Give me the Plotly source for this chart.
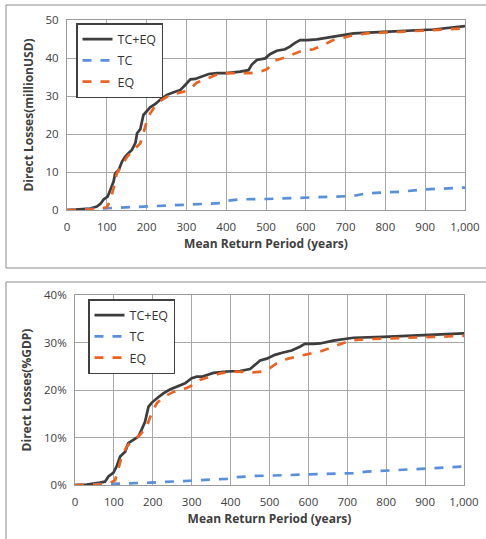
import plotly.graph_objects as go

# ---- Top chart: Direct losses (million USD)
top_x_all = [0, 25, 58, 75, 84, 92, 102, 109, 117, 121, 130, 138, 146, 155, 163, 172, 176, 184, 192, 209, 222, 234, 251, 268, 285, 297, 310, 322, 335, 356, 377, 402, 435, 456, 464, 477, 498, 510, 527, 548, 560, 573, 586, 603, 628, 669, 703, 720, 795, 921, 1000]
top_y_all = [0, 0.2, 0.4, 0.9, 1.6, 2.8, 3.5, 5.3, 7.5, 9.6, 10.5, 12.7, 14, 15, 15.8, 17.7, 20.2, 21.2, 25, 27, 27.9, 29, 30.3, 31, 31.6, 32.9, 34.4, 34.5, 35, 35.8, 36, 36, 36.4, 36.8, 38.2, 39.5, 39.9, 41, 41.9, 42.3, 43, 44, 44.7, 44.7, 44.9, 45.6, 46.3, 46.5, 46.9, 47.5, 48.4]

top_x_tc = [0, 167, 251, 301, 385, 402, 435, 502, 586, 669, 720, 753, 795, 837, 895, 1000]
top_y_tc = [0, 0.7, 1.1, 1.3, 1.8, 2.4, 2.8, 2.9, 3.3, 3.5, 3.7, 4.4, 4.6, 4.8, 5.4, 5.9]

top_x_eq = [0, 75, 100, 109, 117, 125, 138, 151, 167, 184, 192, 201, 209, 226, 251, 276, 293, 310, 326, 351, 385, 418, 460, 485, 502, 523, 552, 586, 619, 636, 669, 711, 753, 837, 921, 1000]
top_y_eq = [0, 0.2, 0.7, 2.6, 5.7, 9.6, 11.8, 14, 15.8, 17.5, 20.2, 23.7, 25.4, 28.1, 29.8, 30.7, 31.1, 32, 33.5, 34.6, 36, 36, 36, 36.4, 37, 39.3, 40.3, 41.7, 42.3, 43, 44.7, 45.8, 46.5, 46.9, 47.4, 47.8]

# ---- Bottom chart: Direct losses (% GDP)
bot_x_all = [0, 30, 64, 77, 86, 99, 107, 116, 129, 137, 150, 163, 171, 180, 189, 197, 210, 227, 244, 266, 283, 300, 313, 326, 339, 356, 390, 424, 450, 463, 476, 493, 514, 535, 557, 578, 591, 613, 630, 664, 699, 716, 793, 921, 1000]
bot_y_all = [0, 0.1, 0.5, 0.7, 1.8, 2.6, 3.9, 6, 7, 8.8, 9.5, 10.2, 11.6, 13.3, 16.5, 17.3, 18.2, 19.3, 20.1, 20.8, 21.4, 22.5, 22.8, 22.8, 23.2, 23.6, 23.9, 24, 24.4, 25.3, 26.2, 26.6, 27.4, 27.9, 28.3, 29.1, 29.7, 29.7, 29.8, 30.4, 30.9, 31, 31.2, 31.6, 31.9]

bot_x_tc = [0, 99, 193, 296, 390, 407, 459, 510, 578, 664, 716, 750, 793, 836, 895, 1000]
bot_y_tc = [0, 0.2, 0.5, 0.9, 1.3, 1.6, 1.9, 2, 2.2, 2.3, 2.5, 2.8, 3, 3.2, 3.4, 3.9]

bot_x_eq = [0, 73, 90, 103, 111, 120, 133, 150, 167, 184, 197, 210, 227, 253, 287, 304, 321, 343, 373, 407, 459, 484, 501, 518, 544, 578, 604, 630, 664, 707, 750, 836, 921, 1000]
bot_y_eq = [0, 0.1, 0.4, 1, 3.2, 6, 8.1, 9.5, 10.5, 12.3, 15.1, 17.2, 18.5, 19.6, 20.4, 21.1, 22.1, 22.7, 23.5, 23.9, 23.7, 23.9, 24.6, 25.6, 26.5, 27.2, 27.7, 28.1, 29.1, 30.4, 30.7, 30.9, 31.2, 31.4]

series_names = ["TC+EQ", "TC", "EQ"]
x_ticks = [0, 100, 200, 300, 400, 500, 600, 700, 800, 900, 1000]

C_ALL = "#3d3d3d"
C_TC = "#5a8fdc"
C_EQ = "#ec6324"
FONT = "Open Sans"
W, H = 486, 539

fig = go.Figure()

def add_set(xa, ya, xt, yt, xe, ye, xref, yref, legend):
    fig.add_trace(go.Scatter(x=xa, y=ya, mode="lines", name=series_names[0],
                             line=dict(color=C_ALL, width=2.7), xaxis=xref, yaxis=yref,
                             legend=legend, legendgroup=legend + "a"))
    fig.add_trace(go.Scatter(x=xt, y=yt, mode="lines", name=series_names[1],
                             line=dict(color=C_TC, width=2.7, dash="dash"), xaxis=xref, yaxis=yref,
                             legend=legend, legendgroup=legend + "b"))
    fig.add_trace(go.Scatter(x=xe, y=ye, mode="lines", name=series_names[2],
                             line=dict(color=C_EQ, width=2.7, dash="dash"), xaxis=xref, yaxis=yref,
                             legend=legend, legendgroup=legend + "c"))

add_set(top_x_all, top_y_all, top_x_tc, top_y_tc, top_x_eq, top_y_eq, "x", "y", "legend")
add_set(bot_x_all, bot_y_all, bot_x_tc, bot_y_tc, bot_x_eq, bot_y_eq, "x2", "y2", "legend2")

def px_x(p):
    return p / W

def px_y(p):
    return 1 - p / H

axis_common = dict(showline=True, mirror=True, linecolor="#9a9a9a", linewidth=1,
                   showgrid=True, gridcolor="#a8a8a8", gridwidth=1, zeroline=False,
                   automargin=False, ticks="",
                   tickfont=dict(family=FONT, size=11.5, color="#404040"))
xaxis_common = dict(axis_common, range=[0, 1000], tickvals=x_ticks, tickformat=",",
                    ticklabelstandoff=6,
                    title=dict(text="<b>Mean Return Period (years)</b>",
                               font=dict(family=FONT, size=12, color="#404040"), standoff=6))
yaxis_common = dict(axis_common, dtick=10, ticklabelstandoff=5)
ytitle_font = dict(family=FONT, size=12, color="#404040")

legend_common = dict(bgcolor="white", bordercolor="#404040", borderwidth=1.5,
                     font=dict(family=FONT, size=12.5, color="#333333"),
                     tracegroupgap=2, xanchor="left", yanchor="top", itemwidth=30)

fig.update_layout(
    width=W, height=H, margin=dict(l=0, r=0, t=0, b=0), autosize=False,
    paper_bgcolor="white", plot_bgcolor="white",
    xaxis=dict(xaxis_common, domain=[px_x(67), px_x(465)], anchor="y"),
    yaxis=dict(yaxis_common, domain=[px_y(210), px_y(20)], range=[0, 50], anchor="x",
               title=dict(text="<b>Direct Losses(millionUSD)</b>", font=ytitle_font, standoff=9)),
    xaxis2=dict(xaxis_common, domain=[px_x(75), px_x(464)], anchor="y2"),
    yaxis2=dict(yaxis_common, domain=[px_y(485), px_y(295)], range=[0, 40], anchor="x2",
                ticksuffix="%",
                title=dict(text="<b>Direct Losses(%GDP)</b>", font=ytitle_font, standoff=9)),
    legend=dict(legend_common, x=px_x(76), y=px_y(23)),
    legend2=dict(legend_common, x=px_x(88), y=px_y(299)),
    shapes=[
        dict(type="rect", xref="paper", yref="paper", x0=px_x(6), x1=px_x(492),
             y0=px_y(268), y1=px_y(5), line=dict(color="#8c8c8c", width=1)),
        dict(type="rect", xref="paper", yref="paper", x0=px_x(6), x1=px_x(492),
             y0=px_y(545), y1=px_y(282), line=dict(color="#8c8c8c", width=1)),
    ],
)

fig.write_html("out.html", config={"displayModeBar": False},
               post_script="document.body.style.margin='0';document.body.style.overflow='hidden';")
